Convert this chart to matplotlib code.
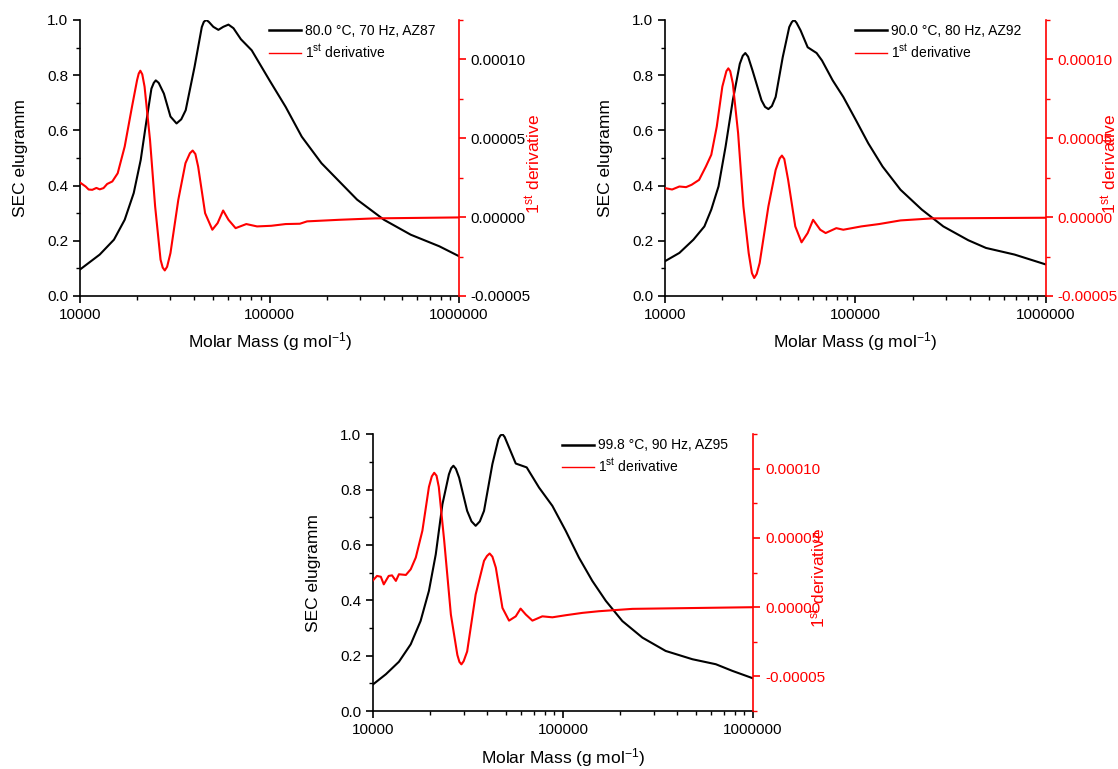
#SEC elugramm and 1st derivative for three AZ samples
import numpy as np
import matplotlib
matplotlib.use("Agg")
import matplotlib.pyplot as plt
from matplotlib.lines import Line2D
from matplotlib.ticker import FuncFormatter, FormatStrFormatter, MultipleLocator, LogLocator

plt.rcParams['font.family'] = ['Liberation Sans', 'DejaVu Sans']
plt.rcParams['mathtext.fontset'] = 'custom'
plt.rcParams['mathtext.rm'] = 'Liberation Sans'
plt.rcParams['mathtext.it'] = 'Liberation Sans:italic'
plt.rcParams['mathtext.default'] = 'regular'

#panel labels#
labels = ["80.0 °C, 70 Hz, AZ87", "90.0 °C, 80 Hz, AZ92", "99.8 °C, 90 Hz, AZ95"]

#AZ87 elugramm#
m87_sec = [10000, 12700, 15100, 17200, 19200, 20900, 22300, 23800, 24500, 25100,
           26000, 27700, 30000, 32300, 34200, 36100, 40200, 43900, 45000, 46300,
           47800, 50500, 53700, 57000, 60700, 64500, 70600, 80500, 100000,
           121600, 147900, 187900, 233300, 289700, 401800, 555900, 787000, 1000000]
sec87 = [0.096, 0.15, 0.204, 0.276, 0.373, 0.493, 0.625, 0.751, 0.772, 0.781,
         0.772, 0.733, 0.65, 0.625, 0.64, 0.673, 0.83, 0.974, 0.993, 1.0,
         0.993, 0.975, 0.964, 0.975, 0.983, 0.97, 0.93, 0.89, 0.781,
         0.685, 0.577, 0.481, 0.415, 0.349, 0.276, 0.222, 0.18, 0.144]
#AZ87 derivative (x 1e-5)#
m87_der = [10000, 10700, 11100, 11600, 12200, 12700, 13300, 13900, 14800, 15800,
           17200, 18800, 20000, 20400, 20800, 21300, 21900, 23400, 24900, 26600,
           27300, 28000, 28800, 30000, 33000, 36000, 38000, 39300, 40600, 42000,
           45700, 49900, 53200, 56900, 60700, 66200, 75400, 85900, 102100, 121600,
           144500, 157800, 233300, 360600, 1000000]
der87 = [2.19, 1.94, 1.75, 1.73, 1.85, 1.76, 1.84, 2.1, 2.26, 2.78,
         4.47, 7.0, 8.69, 9.1, 9.28, 9.05, 8.27, 4.89, 0.68, -2.7,
         -3.2, -3.38, -3.15, -2.28, 1.1, 3.42, 4.05, 4.22, 4.0, 3.2,
         0.25, -0.8, -0.38, 0.42, -0.17, -0.7, -0.44, -0.59, -0.55, -0.44,
         -0.42, -0.27, -0.17, -0.08, -0.02]

#AZ92 elugramm#
m92_sec = [10000, 11900, 14100, 16100, 17500, 19100, 20800, 22700, 24700, 25600,
           26400, 27300, 28800, 32100, 33500, 34900, 36400, 38100, 41500, 44900,
           46300, 47600, 49000, 51500, 56100, 62500, 66700, 75900, 86300, 100500,
           116700, 138700, 172200, 222800, 289100, 390800, 484200, 684000, 1000000]
sec92 = [0.126, 0.156, 0.204, 0.252, 0.313, 0.397, 0.541, 0.709, 0.841, 0.87,
         0.88, 0.867, 0.817, 0.709, 0.685, 0.677, 0.688, 0.721, 0.865, 0.974,
         0.992, 1.0, 0.99, 0.962, 0.901, 0.88, 0.853, 0.781, 0.721, 0.637,
         0.553, 0.469, 0.385, 0.313, 0.252, 0.202, 0.174, 0.15, 0.114]
#AZ92 derivative (x 1e-5)#
m92_der = [10000, 10900, 11900, 12900, 13800, 15100, 16400, 17500, 18700, 20000,
           21000, 21500, 22000, 22700, 24200, 25800, 27500, 28600, 29400, 30300,
           31400, 34900, 38100, 40000, 41100, 42300, 44300, 48300, 52100, 56100,
           59900, 65300, 69700, 79300, 86300, 107200, 133000, 172200, 253500, 1000000]
der92 = [1.84, 1.75, 1.94, 1.9, 2.05, 2.36, 3.21, 3.95, 5.74, 8.27,
         9.25, 9.43, 9.25, 8.48, 5.32, 0.68, -2.28, -3.55, -3.86, -3.6,
         -2.91, 0.68, 2.99, 3.72, 3.9, 3.68, 2.36, -0.59, -1.6, -1.01,
         -0.17, -0.8, -1.01, -0.7, -0.8, -0.59, -0.44, -0.21, -0.08, -0.04]

#AZ95 elugramm#
m95_sec = [10000, 11700, 13700, 15800, 17800, 19700, 21400, 23200, 25100, 25800,
           26500, 27300, 28400, 31300, 33000, 34700, 36500, 38400, 42500, 45700,
           46800, 48000, 49300, 52000, 56400, 64400, 74800, 87900, 103300, 121300,
           142600, 167900, 205100, 261800, 346700, 479700, 636800, 778000, 1000000]
sec95 = [0.096, 0.133, 0.178, 0.241, 0.325, 0.434, 0.566, 0.747, 0.855, 0.877,
         0.886, 0.875, 0.843, 0.723, 0.685, 0.669, 0.685, 0.723, 0.892, 0.982,
         0.995, 1.0, 0.99, 0.952, 0.894, 0.88, 0.807, 0.741, 0.651, 0.554,
         0.47, 0.398, 0.325, 0.265, 0.217, 0.187, 0.169, 0.145, 0.118]
#AZ95 derivative (x 1e-5)#
m95_der = [10000, 10500, 11000, 11400, 12100, 12600, 13200, 13700, 14900, 15800,
           16800, 18200, 19700, 20400, 21000, 21600, 22200, 23700, 25700, 27800,
           28500, 29200, 30000, 31300, 34700, 38400, 39800, 41100, 42500, 44300,
           48000, 52000, 56400, 59800, 63700, 69000, 77800, 87900, 103300, 126500,
           154500, 231700, 1000000]
der95 = [1.94, 2.26, 2.2, 1.65, 2.26, 2.3, 1.9, 2.38, 2.33, 2.74,
         3.59, 5.53, 8.69, 9.45, 9.71, 9.5, 8.69, 4.81, -0.53, -3.45,
         -3.95, -4.13, -3.9, -3.2, 0.92, 3.35, 3.7, 3.88, 3.65, 2.86,
         -0.05, -0.97, -0.66, -0.1, -0.53, -0.97, -0.66, -0.73, -0.58, -0.41,
         -0.29, -0.12, 0.0]

red = '#ff0000'


def panel(rect, label, msec, sec, mder, der, dlim, tickcol, rlab_x):
    ax = fig.add_axes(rect)
    ax.plot(msec, sec, c='black', lw=1.5)
    ax.set_xscale('log')
    ax.set_xlim(10000, 1000000)
    ax.set_ylim(0, 1.0)
    ax.spines['top'].set_visible(False)
    ax.spines['right'].set_visible(False)
    for s in ['left', 'bottom']:
        ax.spines[s].set_linewidth(1.2)
    ax.yaxis.set_major_locator(MultipleLocator(0.2))
    ax.yaxis.set_minor_locator(MultipleLocator(0.1))
    ax.yaxis.set_major_formatter(FormatStrFormatter('%.1f'))
    ax.xaxis.set_major_locator(LogLocator(base=10, numticks=5))
    ax.xaxis.set_minor_locator(LogLocator(base=10, subs=np.arange(2, 10), numticks=20))
    ax.xaxis.set_major_formatter(FuncFormatter(lambda v, p: '%d' % round(v)))
    ax.tick_params(which='major', direction='out', length=5, width=1.2, labelsize=11)
    ax.tick_params(which='minor', direction='out', length=3, width=1.0)
    ax.set_ylabel("SEC elugramm", fontsize=12.5)
    ax.yaxis.set_label_coords(-0.137, 0.5)
    ax.set_xlabel("Molar Mass (g mol$^{-1}$)", fontsize=12.5)
    ax.xaxis.set_label_coords(0.5, -0.125)

    #derivative on second axis#
    ax2 = ax.twinx()
    ax2.plot(mder, np.array(der) * 1e-5, c=red, lw=1.5)
    ax2.set_xlim(10000, 1000000)
    ax2.set_ylim(dlim)
    for s in ['top', 'left', 'bottom']:
        ax2.spines[s].set_visible(False)
    ax2.spines['right'].set_color(red)
    ax2.spines['right'].set_linewidth(1.2)
    ax2.yaxis.set_major_locator(MultipleLocator(0.00005))
    ax2.yaxis.set_minor_locator(MultipleLocator(0.000025))
    ax2.yaxis.set_major_formatter(FormatStrFormatter('%.5f'))
    ax2.tick_params(which='major', direction='out', length=5, width=1.2, color=red,
                    labelsize=11, labelcolor=tickcol)
    ax2.tick_params(which='minor', direction='out', length=3, width=1.0, color=red)
    ax2.set_ylabel("1$^{st}$ derivative", fontsize=12.5, color=red)
    ax2.yaxis.set_label_coords(rlab_x, 0.48)

    handles = [Line2D([], [], c='black', lw=1.8), Line2D([], [], c=red, lw=1.0)]
    ax2.legend(handles, [label, "1$^{st}$ derivative"], loc='upper left',
               bbox_to_anchor=(0.465, 1.03), frameon=False, fontsize=10,
               handlelength=2.3, handletextpad=0.3, labelspacing=0.35)
    return ax, ax2


fig = plt.figure(figsize=(11.18, 7.69), dpi=100)
panel([0.0716, 0.6151, 0.339, 0.359], labels[0], m87_sec, sec87, m87_der, der87,
      (-0.00005, 0.000125), 'black', 1.17)
panel([0.5948, 0.6151, 0.3408, 0.359], labels[1], m92_sec, sec92, m92_der, der92,
      (-0.00005, 0.000125), red, 1.14)
panel([0.3336, 0.0754, 0.340, 0.360], labels[2], m95_sec, sec95, m95_der, der95,
      (-0.000075, 0.000125), red, 1.145)

fig.savefig("out.png", dpi=100)
